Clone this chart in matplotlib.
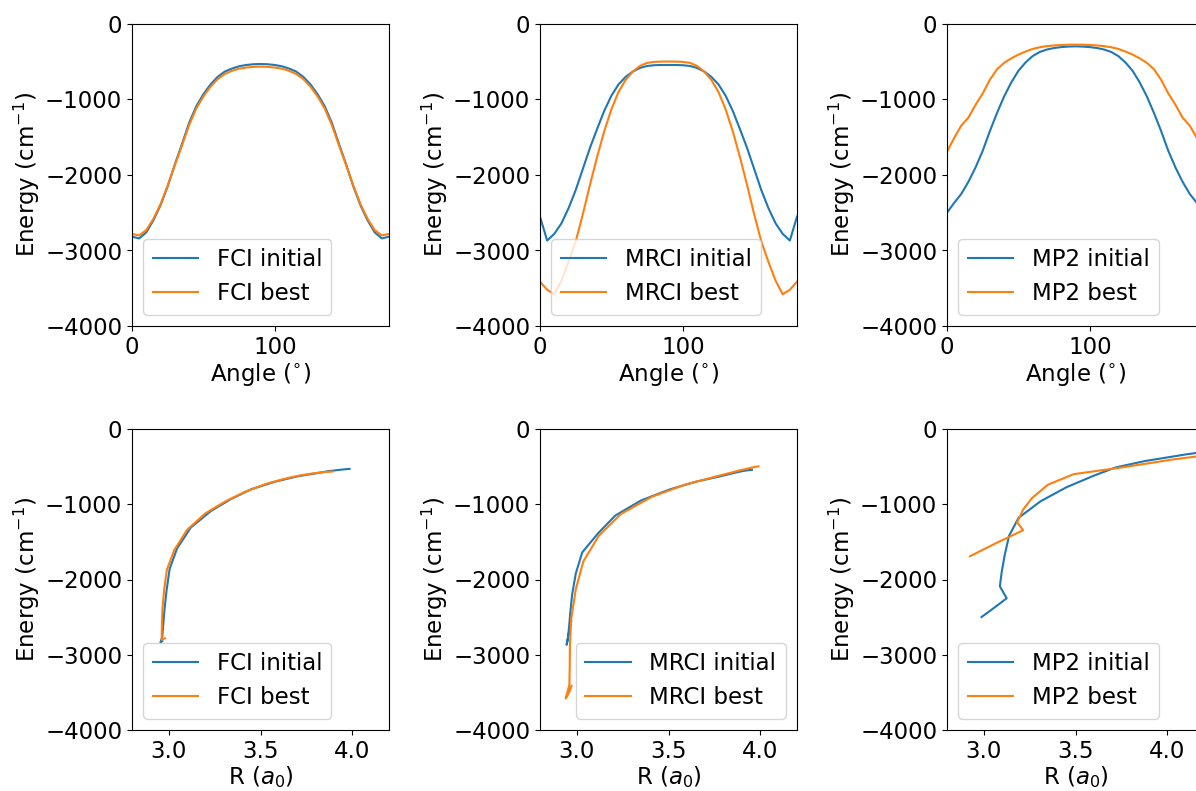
import numpy as np
import matplotlib
matplotlib.use("Agg")
import matplotlib.pyplot as plt

plt.rcParams['font.size'] = 16.5

# angle scan (degrees)
angles = np.arange(0, 181, 5)

# energies along the angle scan (cm^-1), 0..180 deg
fci_init = [-2817, -2840, -2760, -2600, -2400, -2150, -1860, -1590, -1310, -1090,
            -930, -800, -700, -630, -590, -560, -543, -533, -530,
            -533, -543, -560, -590, -630, -700, -800, -930, -1090, -1310,
            -1590, -1860, -2150, -2400, -2600, -2760, -2840, -2817]
fci_best = [-2781, -2800, -2730, -2580, -2385, -2140, -1870, -1610, -1340, -1120,
            -960, -830, -730, -662, -620, -592, -577, -568, -565,
            -568, -577, -592, -620, -662, -730, -830, -960, -1120, -1340,
            -1610, -1870, -2140, -2385, -2580, -2730, -2800, -2781]
mrci_init = [-2552, -2868, -2780, -2640, -2440, -2200, -1920, -1640, -1390, -1150,
             -950, -800, -700, -630, -582, -556, -546, -543, -543,
             -543, -546, -556, -582, -630, -700, -800, -950, -1150, -1390,
             -1640, -1920, -2200, -2440, -2640, -2780, -2868, -2552]
mrci_best = [-3413, -3520, -3580, -3400, -3150, -2880, -2520, -2130, -1760, -1420,
             -1130, -900, -740, -630, -555, -515, -502, -498, -497,
             -498, -502, -515, -555, -630, -740, -900, -1130, -1420, -1760,
             -2130, -2520, -2880, -3150, -3400, -3580, -3520, -3413]
mp2_init = [-2499, -2370, -2250, -2090, -1900, -1680, -1420, -1180, -960, -775,
            -620, -510, -425, -370, -338, -318, -306, -299, -296,
            -299, -306, -318, -338, -370, -425, -510, -620, -775, -960,
            -1180, -1420, -1680, -1900, -2090, -2250, -2370, -2499]
mp2_best = [-1691, -1510, -1345, -1240, -1070, -920, -740, -600, -515, -455,
            -405, -365, -330, -308, -293, -284, -278, -274, -273,
            -274, -278, -284, -293, -308, -330, -365, -405, -455, -515,
            -600, -740, -920, -1070, -1240, -1345, -1510, -1691]

# optimised bond length (a0) for angles 0..90 deg
fci_init_r = [2.965, 2.955, 2.965, 2.97, 2.977, 2.988, 3.005, 3.045, 3.12, 3.23,
              3.34, 3.45, 3.58, 3.70, 3.80, 3.87, 3.93, 3.97, 3.985]
fci_best_r = [2.98, 2.962, 2.962, 2.963, 2.966, 2.975, 2.99, 3.03, 3.10, 3.20,
              3.31, 3.42, 3.53, 3.63, 3.71, 3.78, 3.83, 3.87, 3.894]
mrci_init_r = [2.97, 2.945, 2.952, 2.958, 2.965, 2.975, 2.995, 3.03, 3.115, 3.21,
               3.35, 3.51, 3.65, 3.78, 3.86, 3.91, 3.94, 3.95, 3.954]
mrci_best_r = [2.972, 2.955, 2.94, 2.96, 2.962, 2.963, 2.97, 2.995, 3.036, 3.12,
               3.24, 3.41, 3.59, 3.76, 3.88, 3.95, 3.975, 3.985, 3.99]
mp2_init_r = [2.988, 3.06, 3.125, 3.088, 3.098, 3.114, 3.138, 3.19, 3.31, 3.45,
              3.60, 3.72, 3.88, 4.02, 4.10, 4.16, 4.20, 4.22, 4.23]
mp2_best_r = [2.925, 3.073, 3.215, 3.182, 3.215, 3.262, 3.35, 3.49, 3.74, 3.90,
              4.03, 4.16, 4.26, 4.32, 4.36, 4.39, 4.41, 4.42, 4.42]

methods = ['FCI', 'MRCI', 'MP2']
init_e = [fci_init, mrci_init, mp2_init]
best_e = [fci_best, mrci_best, mp2_best]
init_r = [fci_init_r, mrci_init_r, mp2_init_r]
best_r = [fci_best_r, mrci_best_r, mp2_best_r]
bottom_loc = ['lower left', 'lower right', 'lower left']

W, H = 1196, 791
fig = plt.figure(figsize=(W / 100, H / 100), dpi=100)
lefts = [132, 540, 947]

for i, m in enumerate(methods):
    # angle scan
    ax = fig.add_axes([lefts[i] / W, 1 - 326 / H, 257 / W, 302 / H])
    ax.plot(angles, init_e[i], label=f'{m} initial')
    ax.plot(angles, best_e[i], label=f'{m} best')
    ax.set_xlim(0, 180)
    ax.set_ylim(-4000, 0)
    ax.set_xticks([0, 100])
    ax.set_yticks([0, -1000, -2000, -3000, -4000])
    ax.set_xlabel(r'Angle ($^{\circ}$)', labelpad=2)
    ax.set_ylabel(r'Energy (cm$^{-1}$)', labelpad=2)
    ax.legend(loc='lower left')

    # bond length vs energy
    n = len(init_r[i])
    ax = fig.add_axes([lefts[i] / W, 1 - 730 / H, 257 / W, 301 / H])
    ax.plot(init_r[i], init_e[i][:n], label=f'{m} initial')
    ax.plot(best_r[i], best_e[i][:n], label=f'{m} best')
    ax.set_xlim(2.8, 4.2)
    ax.set_ylim(-4000, 0)
    ax.set_xticks([3.0, 3.5, 4.0])
    ax.set_yticks([0, -1000, -2000, -3000, -4000])
    ax.set_xlabel(r'R ($a_0$)', labelpad=1)
    ax.set_ylabel(r'Energy (cm$^{-1}$)', labelpad=2)
    ax.legend(loc=bottom_loc[i])

fig.savefig('out.png', dpi=100)
